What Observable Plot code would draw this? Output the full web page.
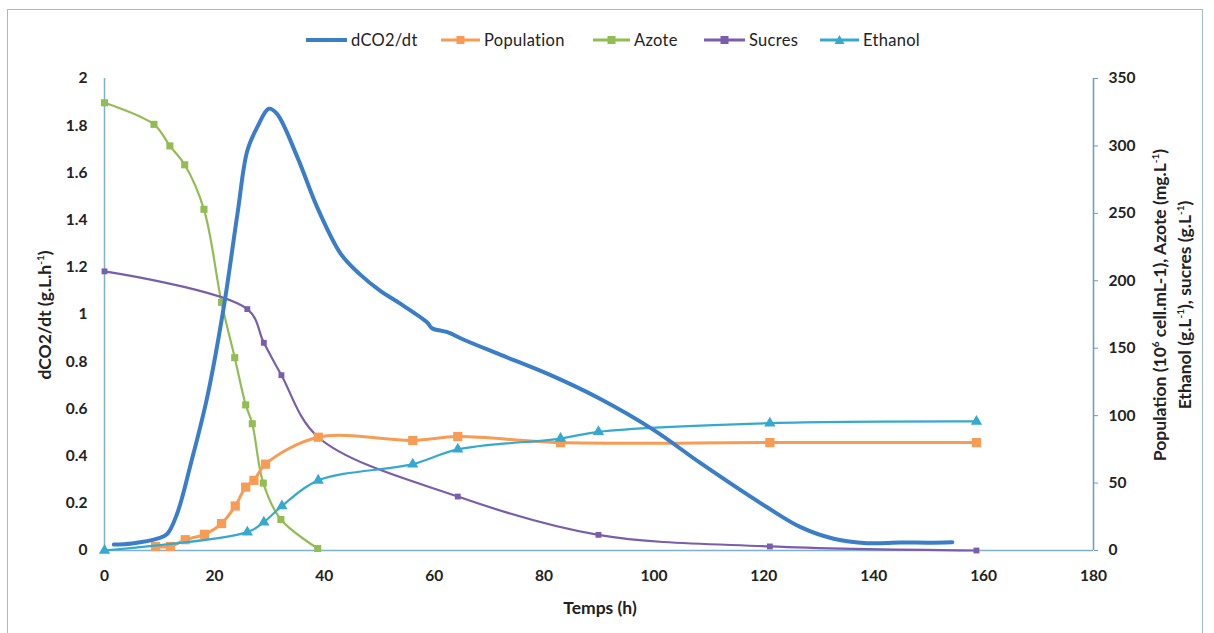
<!DOCTYPE html>
<html>
<head>
<meta charset="utf-8">
<script src="https://cdn.jsdelivr.net/npm/d3@7"></script>
<script src="https://cdn.jsdelivr.net/npm/@observablehq/plot@0.6"></script>
<style>
  body { margin: 0; background: #fff; font-family: Lato, "Open Sans", sans-serif; }
  #wrap { position: relative; width: 1214px; height: 633px; overflow: hidden; background: #fff; }
  #frame { position: absolute; left: 7px; top: 9px; width: 1196px; height: 660px; border: 1.5px solid #a7bacb; box-sizing: border-box; }
  #chart { position: absolute; left: 0; top: 58px; }
  .leg { position: absolute; top: 30px; height: 20px; display: flex; align-items: center; font-size: 16.5px; letter-spacing: 0.3px; color: #222; white-space: nowrap; }
  .lab { position: absolute; font-weight: bold; font-size: 17.5px; color: #222; white-space: nowrap; transform: translate(-50%, -50%) rotate(-90deg); text-align: center; line-height: 25px; }
  .lab sup { font-size: 10px; line-height: 0; }
  #xlab { position: absolute; left: 600px; top: 607px; transform: translate(-50%, -50%); font-weight: bold; font-size: 17.5px; color: #222; }
</style>
</head>
<body>
<div id="wrap">
  <div id="frame"></div>
  <div id="chart"></div>
  <div class="lab" style="left:44px; top:315px;">dCO2/dt (g.L.h<sup>-1</sup>)</div>
  <div class="lab" style="left:1172px; top:305px;">Population (10<sup>6</sup> cell.mL-1), Azote (mg.L<sup>-1</sup>)<br>Ethanol (g.L<sup>-1</sup>), sucres (g.L<sup>-1</sup>)</div>
  <div id="xlab">Temps (h)</div>
</div>
<script>
// ---- Data ----
// dCO2/dt, left axis (g.L-1.h-1)
const co2Time  = [1.7, 5, 9.6, 11.4, 13.2, 15.7, 18.7, 21.7, 24.2, 26, 27.8, 29.9, 31.4, 35.1, 38.7, 43, 46.5, 50.2, 53.9, 58.7, 59.6, 62.4, 65.4, 72, 81, 90, 100, 108.5, 120.6, 126.7, 132.7, 138.8, 144.9, 150, 154.3];
const co2Value = [0.025, 0.03, 0.05, 0.07, 0.155, 0.367, 0.65, 1.03, 1.427, 1.695, 1.794, 1.872, 1.85, 1.667, 1.455, 1.257, 1.17, 1.10, 1.045, 0.967, 0.942, 0.925, 0.893, 0.83, 0.745, 0.645, 0.51, 0.37, 0.183, 0.099, 0.05, 0.031, 0.034, 0.033, 0.035];
// right axis series
const popTime  = [9.3, 12, 14.7, 18.2, 21.3, 23.8, 25.7, 27.2, 29.3, 38.9, 56.1, 64.3, 83, 121.1, 158.7];
const popValue = [3, 3, 8, 12, 20, 33, 47, 52, 64, 84, 81.6, 84.5, 80, 80, 80];
const azoteTime  = [0, 9, 11.9, 14.6, 18.1, 21.3, 23.7, 25.7, 26.9, 28.9, 32.1, 38.8];
const azoteValue = [332, 316, 300, 286, 253, 184, 143, 108, 94, 50, 23, 1.5];
const sucresTime  = [0, 26, 29, 32.2, 38.9, 64.3, 89.9, 121.1, 158.7];
const sucresValue = [207, 179, 154, 130, 84, 40, 11.6, 3, 0];
const ethTime  = [0, 26, 29, 32.3, 38.9, 56.1, 64.3, 83, 89.9, 121.1, 158.7];
const ethValue = [0, 13.6, 21, 33, 52, 64, 75, 83, 88, 94.4, 95.7];

const seriesNames  = ["dCO2/dt", "Population", "Azote", "Sucres", "Ethanol"];
const seriesColors = ["#3a7dc9", "#f89c55", "#92bd52", "#7a5eab", "#35a9cf"];
const xTicks = [0, 20, 40, 60, 80, 100, 120, 140, 160, 180];
const leftTicks = [0, 0.2, 0.4, 0.6, 0.8, 1, 1.2, 1.4, 1.6, 1.8, 2];
const rightTicks = [0, 50, 100, 150, 200, 250, 300, 350];
const K = 175; // right axis units per left axis unit (350 / 2)

const zip = (t, v, s) => t.map((d, i) => ({t: d, v: v[i], s}));
const co2 = zip(co2Time, co2Value, "dCO2/dt");
const pop = zip(popTime, popValue, "Population");
const azote = zip(azoteTime, azoteValue, "Azote");
const sucres = zip(sucresTime, sucresValue, "Sucres");
const eth = zip(ethTime, ethValue, "Ethanol");
const right = d => d.v / K;

const axisColor = "#7fb0cf";
const chart = Plot.plot({
  width: 1214,
  height: 575,
  marginLeft: 104,
  marginRight: 121,
  marginTop: 20,
  marginBottom: 83,
  style: { fontFamily: "Lato, 'Open Sans', sans-serif", fontSize: "15.5px", fontWeight: "bold", color: "#222", background: "transparent" },
  x: { domain: [0, 180] },
  y: { domain: [0, 2] },
  marks: [
    Plot.axisX({ ticks: xTicks, tickSize: 0, tickPadding: 19, label: null }),
    Plot.axisY({ ticks: leftTicks, tickSize: 0, tickPadding: 17, tickFormat: d => d3.format("~g")(+d.toFixed(1)), label: null }),
    Plot.axisY({ anchor: "right", ticks: rightTicks.map(v => v / K), tickFormat: d => Math.round(d * K), tickSize: 4, tickPadding: 11, label: null, stroke: "#6d9bbf" }),
    Plot.ruleX([0], { stroke: axisColor, strokeWidth: 1.5 }),
    Plot.ruleX([180], { stroke: "#6d9bbf", strokeWidth: 1.5 }),
    Plot.ruleY([0], { stroke: axisColor, strokeWidth: 1.5 }),
    // Azote
    Plot.line(azote, { x: "t", y: right, stroke: seriesColors[2], strokeWidth: 2.2, curve: "catmull-rom" }),
    Plot.dot(azote, { x: "t", y: right, symbol: "square", r: 4, fill: seriesColors[2] }),
    // Sucres
    Plot.line(sucres, { x: "t", y: right, stroke: seriesColors[3], strokeWidth: 2.2, curve: "catmull-rom" }),
    Plot.dot(sucres, { x: "t", y: right, symbol: "square", r: 3.3, fill: seriesColors[3] }),
    // Population
    Plot.line(pop, { x: "t", y: right, stroke: seriesColors[1], strokeWidth: 3, curve: "catmull-rom" }),
    Plot.dot(pop, { x: "t", y: right, symbol: "square", r: 5.2, fill: seriesColors[1] }),
    // Ethanol
    Plot.line(eth, { x: "t", y: right, stroke: seriesColors[4], strokeWidth: 2.2, curve: "catmull-rom" }),
    Plot.dot(eth, { x: "t", y: right, symbol: "triangle", r: 4.2, fill: seriesColors[4] }),
    // dCO2/dt
    Plot.line(co2, { x: "t", y: "v", stroke: seriesColors[0], strokeWidth: 4, curve: "catmull-rom" })
  ]
});
document.getElementById("chart").appendChild(chart);

// ---- Legend ----
const legLeft = [306, 441, 593, 704, 820];
const legSwatch = [41, 39, 37, 41, 39];
const legMarker = [null, "square", "square", "square", "triangle"];
const wrap = document.getElementById("wrap");
seriesNames.forEach((name, i) => {
  const div = document.createElement("div");
  div.className = "leg";
  div.style.left = legLeft[i] + "px";
  const w = legSwatch[i];
  const c = seriesColors[i];
  let mk = "";
  if (legMarker[i] === "square") mk = `<rect x="${w/2-4}" y="6" width="8" height="8" fill="${c}"/>`;
  if (legMarker[i] === "triangle") mk = `<path d="M${w/2},5 L${w/2+5},14 L${w/2-5},14 Z" fill="${c}"/>`;
  div.innerHTML = `<svg width="${w}" height="20" style="margin-right:4px"><line x1="0" x2="${w}" y1="10" y2="10" stroke="${c}" stroke-width="${i === 0 ? 4 : 3}"/>${mk}</svg><span>${name}</span>`;
  wrap.appendChild(div);
});
</script>
</body>
</html>
